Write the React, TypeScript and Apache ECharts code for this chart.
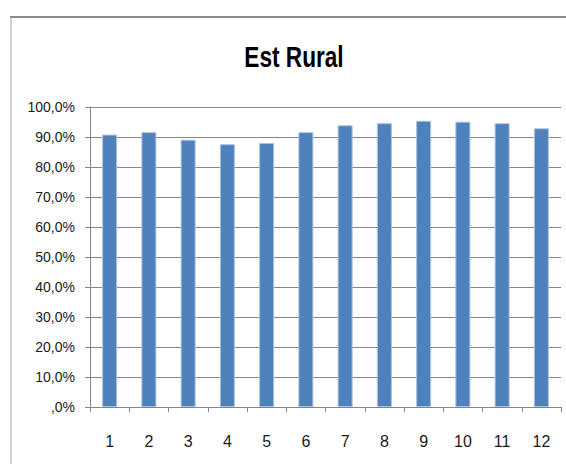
import React, { useEffect, useRef } from "react";
import * as echarts from "echarts";

// Monthly values for the "Est Rural" series, in percent
const months: string[] = ["1", "2", "3", "4", "5", "6", "7", "8", "9", "10", "11", "12"];
const rates: number[] = [90.8, 91.6, 89.1, 87.6, 88.0, 91.6, 93.9, 94.6, 95.4, 95.1, 94.6, 92.9];
const titleText = "Est Rural";

const W = 566;
const H = 464;

function formatPct(v: number): string {
  if (v === 0) return ",0%";
  return v.toFixed(1).replace(".", ",") + "%";
}

export default function App() {
  const ref = useRef<HTMLDivElement>(null);

  useEffect(() => {
    if (!ref.current) return;
    const chart = echarts.init(ref.current, null, { renderer: "svg" });
    const font = "'Liberation Sans Narrow', 'Liberation Sans', Arial, sans-serif";
    chart.setOption({
      animation: false,
      backgroundColor: "#ffffff",
      textStyle: { fontFamily: font },
      grid: { left: 90, right: 5, top: 107, bottom: 57, containLabel: false },
      xAxis: {
        type: "category",
        data: months,
        boundaryGap: true,
        axisLine: { show: true, lineStyle: { color: "#868686", width: 1 } },
        axisTick: { show: true, length: 5, lineStyle: { color: "#868686" } },
        axisLabel: { color: "#1a1a1a", fontSize: 16, margin: 26, fontFamily: font },
        splitLine: { show: false },
      },
      yAxis: {
        type: "value",
        min: 0,
        max: 100,
        interval: 10,
        axisLine: { show: true, lineStyle: { color: "#868686", width: 1 } },
        axisTick: { show: true, length: 5, lineStyle: { color: "#868686" } },
        axisLabel: { color: "#1a1a1a", fontSize: 14, margin: 15, fontFamily: font, formatter: formatPct },
        splitLine: { show: true, lineStyle: { color: "#868686", width: 1 } },
      },
      series: [
        {
          type: "bar",
          data: rates,
          barWidth: 15,
          itemStyle: { color: "#4F81BD", borderColor: "#A9C0DF", borderWidth: 1 },
        },
      ],
      graphic: [
        {
          type: "line",
          shape: { x1: 10, y1: 17, x2: W + 10, y2: 17 },
          style: { stroke: "#8a8a8a", lineWidth: 2 },
          silent: true,
        },
        {
          type: "line",
          shape: { x1: 11, y1: 17, x2: 11, y2: H + 10 },
          style: { stroke: "#a6a6a6", lineWidth: 1 },
          silent: true,
        },
        {
          type: "text",
          x: 294,
          y: 57,
          scaleX: 0.78,
          scaleY: 1,
          style: {
            text: titleText,
            x: 0,
            y: 0,
            align: "center",
            verticalAlign: "middle",
            fontSize: 29,
            fontWeight: "bold",
            fontFamily: "'Liberation Sans', Arial, sans-serif",
            fill: "#000000",
          },
        },
      ],
    });
    return () => chart.dispose();
  }, []);

  return (
    <div
      ref={ref}
      style={{ position: "fixed", left: 0, top: 0, width: W, height: H, background: "#fff" }}
    />
  );
}
